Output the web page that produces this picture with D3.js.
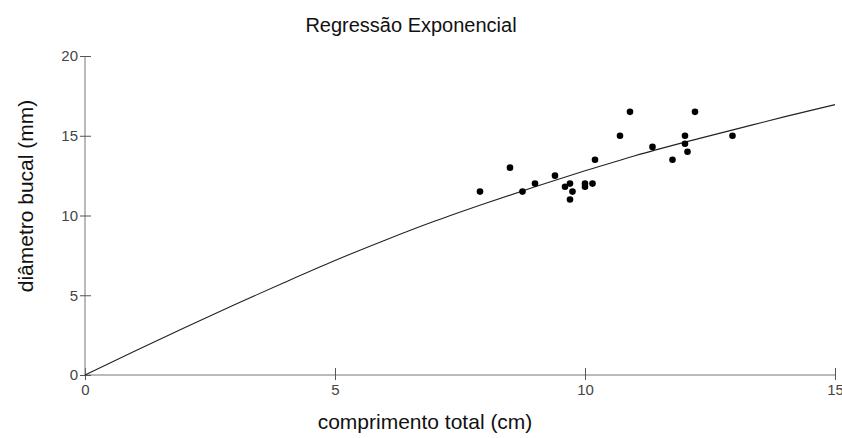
<!DOCTYPE html>
<html>
<head>
<meta charset="utf-8">
<script src="https://cdn.jsdelivr.net/npm/d3@7"></script>
<style>
  body { margin: 0; background: #fff; }
  text { font-family: "Liberation Sans", Arial, sans-serif; }
</style>
</head>
<body>
<div id="chart"></div>
<script>
// observed points (comprimento total cm, diametro bucal mm)
var comprimento = [7.9, 8.5, 8.75, 9.0, 9.4, 9.6, 9.7, 9.75, 9.7, 10.0, 10.0, 10.15,
  10.2, 10.7, 10.9, 11.35, 11.75, 12.0, 12.0, 12.05, 12.2, 12.95];
var diametro = [11.5, 13.0, 11.5, 12.0, 12.5, 11.8, 12.0, 11.5, 11.0, 11.8, 12.0, 12.0,
  13.5, 15.0, 16.5, 14.3, 13.5, 15.0, 14.5, 14.0, 16.5, 15.0];

// fitted curve
var curveX = [0, 1, 2, 3, 4, 5, 6, 7, 8, 9, 10, 11, 12, 13, 14, 15];
var curveY = [0, 1.5, 2.98, 4.42, 5.82, 7.18, 8.45, 9.65, 10.75, 11.8, 12.8, 13.75, 14.6, 15.4, 16.2, 16.95];

var xTicks = [0, 5, 10, 15];
var yTicks = [0, 5, 10, 15, 20];

var svgWidth = 842;
var svgHeight = 438;

var margins = {
  top: 56,
  right: 7,
  bottom: 63,
  left: 85
};

var width = svgWidth - margins.left - margins.right;
var height = svgHeight - margins.top - margins.bottom;

var svg = d3.select("#chart")
  .append("svg")
  .attr("width", svgWidth)
  .attr("height", svgHeight);

var chartGroup = svg.append("g")
  .attr("transform", `translate(${margins.left}, ${margins.top})`);

var xScale = d3.scaleLinear().domain([0, 15]).range([0, width]);
var yScale = d3.scaleLinear().domain([0, 20]).range([height, 0]);

// axes: ticks cross the axis line
var bottomAxis = d3.axisBottom(xScale).tickValues(xTicks).tickSize(5).tickPadding(4);
var leftAxis = d3.axisLeft(yScale).tickValues(yTicks).tickSize(5).tickPadding(2);

var xAxisG = chartGroup.append("g")
  .attr("transform", `translate(0, ${height})`)
  .call(bottomAxis);

var yAxisG = chartGroup.append("g")
  .call(leftAxis);

[xAxisG, yAxisG].forEach(function(g) {
  g.select(".domain").attr("stroke", "#777");
  g.selectAll(".tick text")
    .attr("fill", "#444")
    .style("font-size", "15px")
    .style("font-family", "\"Liberation Sans\", Arial, sans-serif");
  g.selectAll(".tick line").attr("stroke", "#555");
});

// domain lines redrawn plain
xAxisG.select(".domain").attr("d", `M0,0H${width}`);
yAxisG.select(".domain").attr("d", `M0,0V${height}`);

xAxisG.selectAll(".tick line").attr("y1", -7).attr("y2", 5);
yAxisG.selectAll(".tick line").attr("x1", -5).attr("x2", 6);

// fitted curve
var line = d3.line()
  .x((d, i) => xScale(curveX[i]))
  .y(d => yScale(d))
  .curve(d3.curveMonotoneX);

chartGroup.append("path")
  .datum(curveY)
  .attr("d", line)
  .attr("fill", "none")
  .attr("stroke", "#222")
  .attr("stroke-width", 1.1);

// points
chartGroup.selectAll("circle")
  .data(comprimento)
  .enter()
  .append("circle")
  .attr("cx", d => xScale(d))
  .attr("cy", (d, i) => yScale(diametro[i]))
  .attr("r", 3.3)
  .attr("fill", "#000");

// titles
svg.append("text")
  .attr("x", 411)
  .attr("y", 32)
  .attr("text-anchor", "middle")
  .attr("fill", "#111")
  .style("font-size", "20px")
  .text("Regressão Exponencial");

svg.append("text")
  .attr("transform", "translate(33, 196) rotate(-90)")
  .attr("text-anchor", "middle")
  .attr("fill", "#111")
  .style("font-size", "21px")
  .text("diâmetro bucal (mm)");

svg.append("text")
  .attr("x", 425)
  .attr("y", 429)
  .attr("text-anchor", "middle")
  .attr("fill", "#111")
  .style("font-size", "21px")
  .text("comprimento total (cm)");
</script>
</body>
</html>
